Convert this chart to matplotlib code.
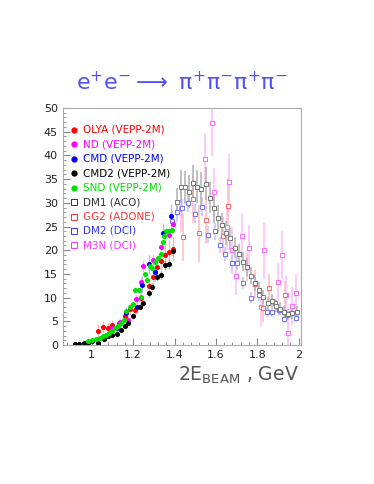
import matplotlib
matplotlib.use("Agg")
import matplotlib.pyplot as plt
from matplotlib.ticker import MultipleLocator, AutoMinorLocator

# filled points (VEPP-2M)
olya_x = [1.03, 1.055, 1.08, 1.10, 1.13, 1.16, 1.185, 1.21, 1.24, 1.275, 1.295, 1.315, 1.335, 1.355, 1.375, 1.395]
olya_y = [3.0, 3.8, 3.7, 4.3, 4.6, 6.2, 7.6, 7.3, 10.0, 12.5, 14.4, 16.5, 17.8, 19.0, 19.7, 20.2]
olya_e = [1.5, 1.2, 1.0, 1.0, 1.0, 1.0, 1.2, 1.2, 1.5, 1.5, 2.0, 2.0, 2.0, 2.0, 2.5, 2.5]

nd_x = [1.10, 1.135, 1.175, 1.215, 1.24, 1.25, 1.295, 1.336, 1.373, 1.392]
nd_y = [3.5, 4.9, 5.3, 9.8, 13.4, 16.7, 17.9, 20.7, 23.3, 25.5]
nd_e = [0.8, 0.8, 0.9, 1.0, 1.2, 1.2, 1.3, 1.4, 1.5, 1.5]

cmd_x = [1.12, 1.165, 1.22, 1.245, 1.275, 1.305, 1.345, 1.385]
cmd_y = [3.5, 6.8, 8.1, 12.7, 17.0, 15.5, 23.6, 27.3]
cmd_e = [1.0, 1.2, 1.5, 1.8, 2.0, 2.0, 2.2, 2.5]

cmd2_x = [0.92, 0.94, 0.96, 0.98, 1.00, 1.03, 1.06, 1.08, 1.10, 1.12, 1.14, 1.16, 1.175, 1.20,
          1.235, 1.25, 1.275, 1.29, 1.315, 1.335, 1.355, 1.375, 1.395]
cmd2_y = [0.2, 0.2, 0.35, 0.5, 0.9, 0.5, 1.3, 1.9, 2.1, 2.3, 3.2, 4.0, 4.6, 6.1,
          8.1, 8.9, 10.9, 12.3, 14.4, 14.8, 16.9, 17.1, 19.8]
cmd2_e = [0.1, 0.1, 0.15, 0.2, 0.3, 0.3, 0.4, 0.4, 0.4, 0.4, 0.5, 0.5, 0.5, 0.6,
          0.7, 0.7, 0.8, 0.8, 0.9, 0.9, 1.0, 1.0, 1.1]

snd_x = [0.98, 1.00, 1.02, 1.04, 1.055, 1.07, 1.085, 1.10, 1.11, 1.125, 1.14, 1.155, 1.165, 1.185, 1.20,
         1.21, 1.23, 1.24, 1.255, 1.265, 1.28, 1.29, 1.305, 1.32, 1.335, 1.345, 1.35, 1.36, 1.375, 1.39]
snd_y = [0.8, 1.0, 1.2, 1.6, 2.0, 2.1, 2.5, 3.0, 3.5, 4.0, 4.6, 5.3, 7.2, 8.0, 8.6,
         11.6, 11.6, 10.2, 15.0, 13.7, 16.7, 16.2, 17.5, 18.3, 19.2, 21.8, 22.9, 24.0, 24.0, 24.3]
snd_e = [0.2, 0.2, 0.2, 0.3, 0.3, 0.3, 0.3, 0.4, 0.4, 0.4, 0.4, 0.5, 0.5, 0.5, 0.5,
         0.6, 0.6, 0.6, 0.7, 0.7, 0.7, 0.7, 0.8, 0.8, 0.8, 0.9, 0.9, 0.9, 0.9, 1.0]

# open squares
dm1_x = [1.41, 1.43, 1.45, 1.47, 1.49, 1.51, 1.53, 1.55, 1.57, 1.59, 1.61, 1.63, 1.65, 1.67, 1.69,
         1.71, 1.73, 1.75, 1.77, 1.79, 1.81, 1.83, 1.85, 1.87, 1.89, 1.91, 1.93, 1.95, 1.97, 1.99]
dm1_y = [30.2, 33.4, 33.3, 32.3, 34.2, 33.4, 33.0, 34.0, 31.1, 28.8, 26.7, 25.3, 23.7, 22.5, 20.5,
         19.2, 17.6, 16.5, 14.6, 13.0, 11.7, 10.2, 8.8, 9.3, 8.2, 7.7, 7.0, 6.5, 6.8, 7.0]
dm1_e = [3.0, 3.5, 3.5, 3.5, 3.8, 3.5, 3.5, 3.5, 3.2, 3.0, 2.8, 2.6, 2.5, 2.4, 2.2,
         2.1, 2.0, 1.9, 1.8, 1.7, 1.6, 1.5, 1.4, 1.4, 1.3, 1.3, 1.2, 1.2, 1.2, 1.2]

gg2_x = [1.44, 1.49, 1.516, 1.553, 1.636, 1.66, 1.75, 1.79, 1.83, 1.855, 1.935]
gg2_y = [22.7, 30.7, 23.6, 26.4, 22.9, 29.3, 16.5, 12.8, 7.9, 12.0, 10.5]
gg2_e = [5.0, 5.0, 6.0, 5.0, 4.0, 6.0, 3.0, 3.0, 3.0, 3.0, 3.0]

dm2_x = [1.39, 1.41, 1.435, 1.467, 1.50, 1.533, 1.564, 1.596, 1.62, 1.646, 1.676, 1.70, 1.73, 1.77,
         1.81, 1.847, 1.869, 1.887, 1.906, 1.927, 1.946, 1.962, 1.989]
dm2_y = [26.2, 28.0, 28.8, 30.0, 27.7, 29.2, 23.3, 24.0, 21.1, 19.2, 17.4, 17.4, 13.1, 10.0,
         10.5, 7.0, 6.9, 8.8, 7.4, 5.6, 6.3, 6.7, 5.8]
dm2_e = [2.0, 2.0, 2.0, 2.0, 2.0, 2.0, 1.8, 1.8, 1.6, 1.5, 1.5, 1.5, 1.3, 1.2,
         1.2, 1.0, 1.0, 1.0, 1.0, 0.9, 0.9, 0.9, 0.9]

m3n_x = [1.43, 1.545, 1.582, 1.593, 1.652, 1.661, 1.68, 1.697, 1.726, 1.76, 1.818, 1.834,
         1.898, 1.922, 1.938, 1.951, 1.967, 1.989]
m3n_y = [28.8, 39.2, 46.8, 32.3, 25.0, 34.3, 20.0, 14.6, 22.9, 20.4, 8.1, 20.0,
         13.4, 19.0, 10.5, 2.5, 8.2, 10.9]
m3n_e = [5.0, 5.5, 7.0, 5.0, 5.0, 6.0, 5.0, 4.0, 5.0, 5.0, 4.0, 6.0,
         4.0, 5.0, 4.0, 3.0, 4.0, 4.0]

fig = plt.figure(figsize=(3.74, 4.84), dpi=100)
ax = fig.add_axes([0.168, 0.287, 0.636, 0.49])

open_sets = [
    (m3n_x, m3n_y, m3n_e, "#ff66ff", "#ffbbff"),
    (dm2_x, dm2_y, dm2_e, "#7070ff", "#c0c0ff"),
    (gg2_x, gg2_y, gg2_e, "#ff6666", "#ffbbbb"),
    (dm1_x, dm1_y, dm1_e, "#777777", "#b0b0b0"),
]
for x, y, e, mc, ec in open_sets:
    ax.errorbar(x, y, yerr=e, fmt="s", ms=3.2, mfc="white", mec=mc, mew=0.7,
                ecolor=ec, elinewidth=1.1, capsize=0)

filled_sets = [
    (olya_x, olya_y, olya_e, "#ff0000", "#ffb0b0"),
    (nd_x, nd_y, nd_e, "#ff00ff", "#ffb0ff"),
    (cmd_x, cmd_y, cmd_e, "#0000ff", "#b0b0ff"),
    (cmd2_x, cmd2_y, cmd2_e, "#000000", "#a0a0a0"),
    (snd_x, snd_y, snd_e, "#00e000", "#b0ffb0"),
]
for x, y, e, mc, ec in filled_sets:
    ax.errorbar(x, y, yerr=e, fmt="o", ms=2.6, mfc=mc, mec=mc,
                ecolor=ec, elinewidth=0.9, capsize=0)

ax.set_xlim(0.86, 2.01)
ax.set_ylim(0, 50)
ax.xaxis.set_major_locator(MultipleLocator(0.2))
ax.xaxis.set_minor_locator(AutoMinorLocator(5))
ax.yaxis.set_major_locator(MultipleLocator(5))
ax.yaxis.set_minor_locator(AutoMinorLocator(5))
ax.set_xticks([1, 1.2, 1.4, 1.6, 1.8, 2])
ax.set_xticklabels(["1", "1.2", "1.4", "1.6", "1.8", "2"])
ax.tick_params(which="both", direction="in", colors="#888888", labelcolor="#222222",
               labelsize=8, top=False, right=False)
ax.tick_params(which="major", length=5)
ax.tick_params(which="minor", length=2.5)
for s in ax.spines.values():
    s.set_color("#aaaaaa")
    s.set_linewidth(0.8)

# legend drawn as text
labels = ["OLYA (VEPP-2M)", "ND (VEPP-2M)", "CMD (VEPP-2M)", "CMD2 (VEPP-2M)", "SND (VEPP-2M)",
          "DM1 (ACO)", "GG2 (ADONE)", "DM2 (DCI)", "M3N (DCI)"]
colors = ["#ff0000", "#ff00ff", "#0000ff", "#000000", "#00e000",
          "#333333", "#ff3333", "#3333ff", "#ff33ff"]
filled = [True] * 5 + [False] * 4
for i, (lab, c, f) in enumerate(zip(labels, colors, filled)):
    yy = 0.907 - i * 0.0608
    if f:
        ax.plot([0.045], [yy], "o", ms=3.5, color=c, transform=ax.transAxes)
    else:
        ax.plot([0.045], [yy], "s", ms=4, mfc="none", mec=c, mew=0.7, transform=ax.transAxes)
    ax.text(0.085, yy, lab, color=c, fontsize=7.5, va="center", ha="left", transform=ax.transAxes)

title = (r"$\mathrm{e}^{+}\mathrm{e}^{-} \longrightarrow\ "
         r"\mathrm{\pi}^{+}\mathrm{\pi}^{-}\mathrm{\pi}^{+}\mathrm{\pi}^{-}$")
fig.text(0.486, 0.83, title, color="#5050ff", fontsize=16, ha="center", va="center",
         math_fontfamily="dejavusans")
fig.text(0.80, 0.225, r"2E$_{\mathregular{BEAM}}$ , GeV", color="#555555",
         fontsize=13.5, ha="right", va="center")

fig.savefig("out.png", dpi=100)
